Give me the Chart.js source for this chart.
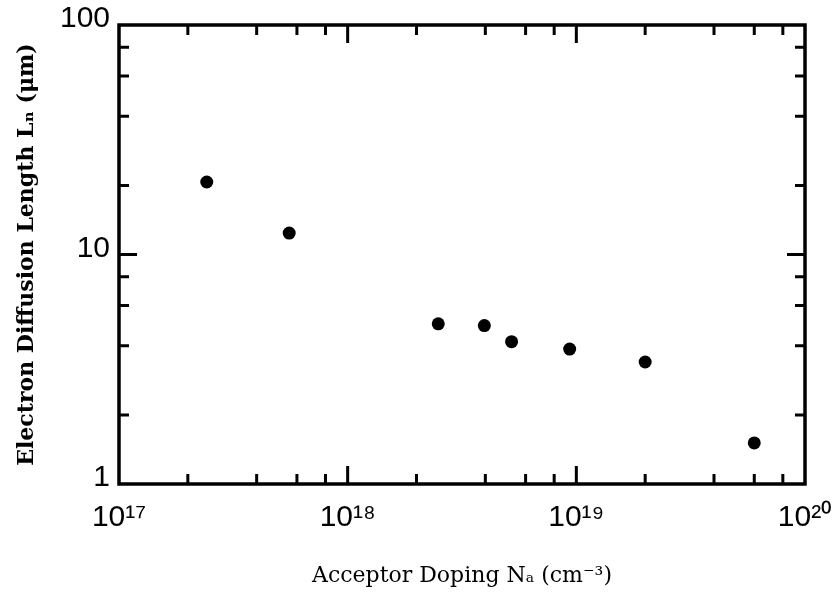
<!DOCTYPE html>
<html>
<head>
<meta charset="utf-8">
<script src="https://cdn.jsdelivr.net/npm/chart.js@4.4.1/dist/chart.umd.min.js"></script>
<style>
html,body{margin:0;padding:0;background:#ffffff;}
#wrap{width:833px;height:595px;position:relative;}
</style>
</head>
<body>
<div id="wrap"><canvas id="c"></canvas></div>
<script>
// ---- data ----
const dopingNA = [2.42e17, 5.55e17, 2.49e18, 3.96e18, 5.21e18, 9.35e18, 2.0e19, 6.0e19];
const diffusionLength = [20.7, 12.4, 4.99, 4.90, 4.17, 3.87, 3.40, 1.51];

const xMajorTicks = [1e17, 1e18, 1e19, 1e20];
const xTickLabels = ['10¹⁷', '10¹⁸', '10¹⁹', '10²⁰'];
const yMajorTicks = [1, 10, 100];
const yTickLabels = ['1', '10', '100'];
const minorMultipliers = [2, 4, 6, 8];

const xTitle = 'Acceptor Doping Nₐ (cm⁻³)';
const yTitle = 'Electron Diffusion Length Lₙ (μm)';

// ---- helpers ----
function buildTicks(majors) {
  const vals = [];
  majors.forEach((m, i) => {
    vals.push({ value: m, major: true });
    if (i < majors.length - 1) minorMultipliers.forEach(k => vals.push({ value: m * k, major: false }));
  });
  return vals;
}
function labelFor(value, majors, labels) {
  const i = majors.findIndex(m => Math.abs(Math.log10(m) - Math.log10(value)) < 1e-9);
  return i >= 0 ? labels[i] : '';
}

const inwardTicks = {
  id: 'inwardTicks',
  afterDraw(chart) {
    const { ctx, chartArea: a, scales } = chart;
    ctx.save();
    ctx.strokeStyle = '#000';
    ctx.lineCap = 'butt';
    ctx.lineWidth = 3;
    scales.x.ticks.forEach(t => {
      const px = scales.x.getPixelForValue(t.value);
      if (px <= a.left + 2 || px >= a.right - 2) return;
      const len = t.major ? 18 : 10;
      ctx.beginPath();
      ctx.moveTo(px, a.bottom); ctx.lineTo(px, a.bottom - len);
      ctx.moveTo(px, a.top); ctx.lineTo(px, a.top + len);
      ctx.stroke();
    });
    scales.y.ticks.forEach(t => {
      const py = scales.y.getPixelForValue(t.value);
      if (py <= a.top + 2 || py >= a.bottom - 2) return;
      const len = t.major ? 18 : 10;
      ctx.beginPath();
      ctx.moveTo(a.left, py); ctx.lineTo(a.left + len, py);
      ctx.moveTo(a.right, py); ctx.lineTo(a.right - len, py);
      ctx.stroke();
    });
    ctx.lineWidth = 3.5;
    ctx.strokeRect(a.left, a.top, a.right - a.left, a.bottom - a.top);
    ctx.restore();
  }
};

new Chart(document.getElementById('c'), {
  type: 'scatter',
  data: {
    datasets: [{
      data: dopingNA.map((x, i) => ({ x: x, y: diffusionLength[i] })),
      backgroundColor: '#000',
      borderColor: '#000',
      pointRadius: 6.5,
      pointHoverRadius: 6.5,
      borderWidth: 0
    }]
  },
  options: {
    responsive: true,
    maintainAspectRatio: false,
    animation: false,
    layout: { padding: { left: 0, right: 28, top: 25, bottom: 0 } },
    plugins: { legend: { display: false }, tooltip: { enabled: false } },
    scales: {
      x: {
        type: 'logarithmic',
        min: 1e17, max: 1e20,
        grid: { display: false, drawTicks: false },
        border: { display: false },
        afterBuildTicks: s => { s.ticks = buildTicks(xMajorTicks); },
        afterFit: s => { s.height = 111; s.paddingLeft = 0; s.paddingRight = 0; },
        ticks: {
          autoSkip: false, maxRotation: 0, padding: 16,
          color: '#000',
          font: { family: 'Liberation Sans', size: 30 },
          callback: v => labelFor(v, xMajorTicks, xTickLabels)
        },
        title: {
          display: true, text: xTitle, color: '#000',
          font: { family: 'DejaVu Serif', size: 22 },
          padding: { top: 0, bottom: 6 }
        }
      },
      y: {
        type: 'logarithmic',
        min: 1, max: 100,
        grid: { display: false, drawTicks: false },
        border: { display: false },
        afterBuildTicks: s => { s.ticks = buildTicks(yMajorTicks); },
        afterFit: s => { s.width = 119; s.paddingTop = 0; s.paddingBottom = 0; },
        ticks: {
          autoSkip: false, padding: 9, labelOffset: -6,
          color: '#000',
          font: { family: 'Liberation Sans', size: 30 },
          callback: v => labelFor(v, yMajorTicks, yTickLabels)
        },
        title: {
          display: true, text: yTitle, color: '#000',
          font: { family: 'DejaVu Serif', size: 22, weight: 'bold' },
          padding: { top: 14, bottom: 0 }
        }
      }
    }
  },
  plugins: [inwardTicks]
});
</script>
</body>
</html>
